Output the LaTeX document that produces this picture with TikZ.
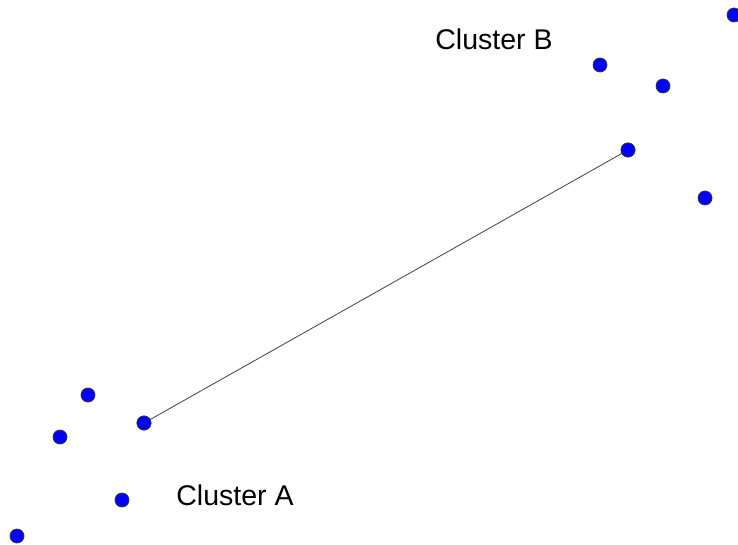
\documentclass[tikz,border=0pt]{standalone}
\usepackage{fontspec}
\setmainfont{Liberation Sans}
\usetikzlibrary{positioning}

\begin{document}
\begin{tikzpicture}[x=1pt, y=-1pt, pt/.style={circle, draw=black!80, line width=0.7pt, fill=blue, inner sep=0pt, minimum size=14pt}, lbl/.style={font=\fontsize{28.5}{32}\selectfont}]
\useasboundingbox (0,0) rectangle (738,545);
\clip (0,0) rectangle (738,545);
% cluster B
\node[pt] (b1) at (734,15) {};
\node[pt] (b2) at (600,65) {};
\node[pt] (b3) at (663,86) {};
\node[pt] (b4) at (628,150) {};
\node[pt] (b5) at (705,198) {};
\node[lbl] (labB) at (494,39) {Cluster B};
% cluster A
\node[pt] (a1) at (88,395) {};
\node[pt] (a2) at (60,437) {};
\node[pt] (a3) at (144,423) {};
\node[pt] (a4) at (122,500) {};
\node[pt] (a5) at (17,536) {};
\node[lbl] (labA) at (235,495) {Cluster A};
\draw[black!75, line width=0.8pt] (a3.center) -- (b4.center);
\foreach \n in {a3,b4} \node[pt] at (\n) {};
\end{tikzpicture}
\end{document}
